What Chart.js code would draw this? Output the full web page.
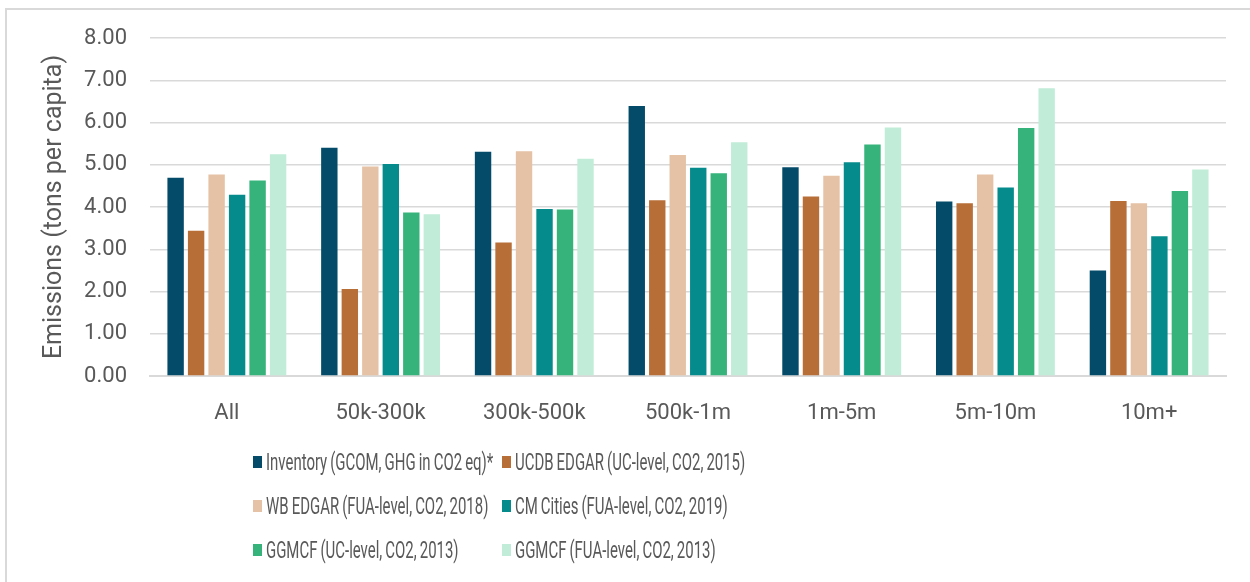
<!DOCTYPE html>
<html>
<head>
<meta charset="utf-8">
<script src="https://cdn.jsdelivr.net/npm/chart.js@4.4.0/dist/chart.umd.min.js"></script>
<style>
  body { margin: 0; background: #fff; width: 1250px; height: 582px; overflow: hidden; position: relative; font-family: Roboto, sans-serif; }
  #frame { position: absolute; left: 5px; top: 8px; width: 1300px; height: 700px; border-top: 2px solid #d9d9d9; border-left: 2px solid #d9d9d9; }
  #c { position: absolute; left: 0; top: 0; }
  #legend { position: absolute; left: 253px; top: 440px; display: grid; grid-template-columns: 249px 300px; grid-auto-rows: 44px; }
  .item { display: flex; align-items: center; white-space: nowrap; color: #595959; font-size: 23px; }
  .box { width: 9px; height: 12px; margin-right: 4px; flex: none; }
  .txt { display: inline-block; transform: scaleX(0.65); transform-origin: left center; word-spacing: -1px; }
</style>
</head>
<body>
<div id="frame"></div>
<canvas id="c" width="1250" height="582"></canvas>
<div id="legend"></div>
<script>
const categories = ['All', '50k-300k', '300k-500k', '500k-1m', '1m-5m', '5m-10m', '10m+'];
const seriesNames = [
  'Inventory (GCOM, GHG in CO2 eq)*',
  'UCDB EDGAR (UC-level, CO2, 2015)',
  'WB EDGAR (FUA-level, CO2, 2018)',
  'CM Cities (FUA-level, CO2, 2019)',
  'GGMCF (UC-level, CO2, 2013)',
  'GGMCF (FUA-level, CO2, 2013)'
];
const inventory = [4.69, 5.40, 5.31, 6.39, 4.94, 4.13, 2.50];
const ucdbEdgar = [3.44, 2.06, 3.16, 4.16, 4.25, 4.09, 4.14];
const wbEdgar   = [4.77, 4.96, 5.32, 5.23, 4.74, 4.77, 4.09];
const cmCities  = [4.29, 5.02, 3.95, 4.93, 5.06, 4.46, 3.31];
const ggmcfUc   = [4.63, 3.87, 3.94, 4.80, 5.48, 5.87, 4.38];
const ggmcfFua  = [5.25, 3.83, 5.14, 5.53, 5.88, 6.81, 4.89];
const barColors = ['#044b69', '#b86e37', '#e5c2a5', '#068b8d', '#35b37a', '#c1edd8'];

const values = [inventory, ucdbEdgar, wbEdgar, cmCities, ggmcfUc, ggmcfFua];
const datasets = values.map((v, i) => ({
  label: seriesNames[i],
  data: v,
  backgroundColor: barColors[i],
  borderWidth: 0,
  categoryPercentage: 0.8,
  barPercentage: 0.8
}));

const chart = new Chart(document.getElementById('c'), {
  type: 'bar',
  data: { labels: categories, datasets: datasets },
  options: {
    responsive: false,
    animation: false,
    layout: { padding: { top: 38, right: 24, bottom: 146, left: 0 } },
    plugins: { legend: { display: false }, tooltip: { enabled: false } },
    scales: {
      x: {
        grid: { display: false },
        border: { color: '#d9d9d9', width: 2 },
        ticks: { color: '#595959', font: { family: 'Roboto', size: 22 }, padding: 16 },
        afterFit: s => { s.height = 60; }
      },
      y: {
        min: 0,
        max: 8,
        grid: { color: '#d9d9d9', lineWidth: 1.5, drawTicks: false },
        border: { display: false },
        ticks: {
          stepSize: 1,
          color: '#595959',
          padding: 23,
          font: { family: 'Roboto', size: 22 },
          callback: v => v.toFixed(2)
        },
        title: {
          display: true,
          text: 'Emissions (tons per capita)',
          color: '#595959',
          font: { family: 'Roboto', size: 25 },
          padding: { top: 40, bottom: 0 }
        },
        afterFit: s => { s.width = 150; }
      }
    }
  }
});

// legend in two aligned columns, built from the chart's datasets
const legend = document.getElementById('legend');
chart.data.datasets.forEach(ds => {
  const item = document.createElement('div');
  item.className = 'item';
  const box = document.createElement('span');
  box.className = 'box';
  box.style.background = ds.backgroundColor;
  const txt = document.createElement('span');
  txt.className = 'txt';
  txt.textContent = ds.label;
  item.appendChild(box);
  item.appendChild(txt);
  legend.appendChild(item);
});
</script>
</body>
</html>
